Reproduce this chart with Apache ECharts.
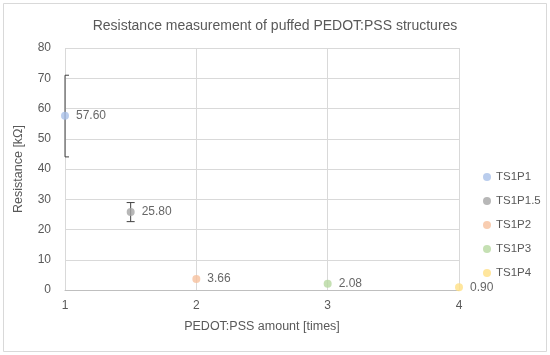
<!DOCTYPE html>
<html><head><meta charset="utf-8">
<script src="https://cdn.jsdelivr.net/npm/echarts@6/dist/echarts.min.js"></script>
<style>html,body{margin:0;padding:0;background:#fff}#c{width:550px;height:355px}</style>
</head><body><div id="c"></div>
<script>
const seriesNames = ['TS1P1', 'TS1P1.5', 'TS1P2', 'TS1P3', 'TS1P4'];
const xValues = [1, 1.5, 2, 3, 4];
const yValues = [57.60, 25.80, 3.66, 2.08, 0.90];
const errLow = [44.0, 22.6, null, null, null];
const errHigh = [71.0, 28.9, null, null, null];
const colors = ['#a9c1e8', '#a5a5a5', '#f6c19e', '#b6d8a0', '#ffe085'];
const xTicks = [1, 2, 3, 4];
const yTicks = [0, 10, 20, 30, 40, 50, 60, 70, 80];

const font = 'Liberation Sans';
const series = seriesNames.map((n, i) => ({
  name: n, type: 'scatter', symbol: 'circle', symbolSize: 8,
  itemStyle: { color: colors[i] },
  data: [[xValues[i], yValues[i]]],
  z: 3,
  label: { show: true, position: 'right', distance: 7, color: '#404040', fontFamily: font, fontSize: 12,
    formatter: p => p.value[1].toFixed(2) }
}));
const errData = [];
xValues.forEach((x, i) => { if (errLow[i] != null) errData.push([x, errLow[i], errHigh[i]]); });
series.push({
  type: 'custom', name: 'err', z: 2, silent: true,
  renderItem: (params, api) => {
    const lo = api.coord([api.value(0), api.value(1)]);
    const hi = api.coord([api.value(0), api.value(2)]);
    const w = 4;
    const left = Math.max(lo[0] - w, params.coordSys.x);
    const right = Math.min(lo[0] + w, params.coordSys.x + params.coordSys.width);
    const st = { stroke: '#404040', lineWidth: 1 };
    return { type: 'group', children: [
      { type: 'line', shape: { x1: lo[0], y1: lo[1], x2: hi[0], y2: hi[1] }, style: st },
      { type: 'line', shape: { x1: left, y1: lo[1], x2: right, y2: lo[1] }, style: st },
      { type: 'line', shape: { x1: left, y1: hi[1], x2: right, y2: hi[1] }, style: st }
    ]};
  },
  encode: { x: 0, y: [1, 2] },
  data: errData
});

const chart = echarts.init(document.getElementById('c'));
chart.setOption({
  animation: false,
  backgroundColor: '#fff',
  textStyle: { fontFamily: font },
  graphic: [{ type: 'rect', shape: { x: 3.5, y: 3.5, width: 543, height: 348 },
    style: { fill: 'none', stroke: '#d9d9d9', lineWidth: 1 }, silent: true }],
  title: { text: 'Resistance measurement of puffed PEDOT:PSS structures', left: 'center', top: 14,
    textStyle: { fontFamily: font, fontSize: 14, fontWeight: 'normal', color: '#595959' } },
  grid: { left: 65, right: 91, top: 48, bottom: 65 },
  legend: {
    data: seriesNames, orient: 'vertical', left: 478, top: 166, itemGap: 12,
    icon: 'circle', itemWidth: 8, itemHeight: 8,
    textStyle: { fontFamily: font, fontSize: 11.5, color: '#595959' }
  },
  xAxis: {
    type: 'value', min: 1, max: 4, interval: 1,
    name: 'PEDOT:PSS amount [times]', nameLocation: 'middle', nameGap: 30,
    nameTextStyle: { fontFamily: font, fontSize: 12.5, color: '#595959' },
    axisLine: { lineStyle: { color: '#bfbfbf' } }, axisTick: { show: false },
    axisLabel: { color: '#595959', fontSize: 12, fontFamily: font, margin: 10,
      formatter: v => xTicks.includes(v) ? String(v) : '' },
    splitLine: { lineStyle: { color: '#d9d9d9' } }
  },
  yAxis: {
    type: 'value', min: 0, max: 80, interval: 10,
    name: 'Resistance [kΩ]', nameLocation: 'middle', nameGap: 40,
    nameTextStyle: { fontFamily: font, fontSize: 12.5, color: '#595959' },
    axisLine: { show: false }, axisTick: { show: false },
    axisLabel: { color: '#595959', fontSize: 12, fontFamily: font, margin: 14,
      formatter: v => yTicks.includes(v) ? String(v) : '' },
    splitLine: { lineStyle: { color: '#d9d9d9' } }
  },
  series: series
});
</script></body></html>
